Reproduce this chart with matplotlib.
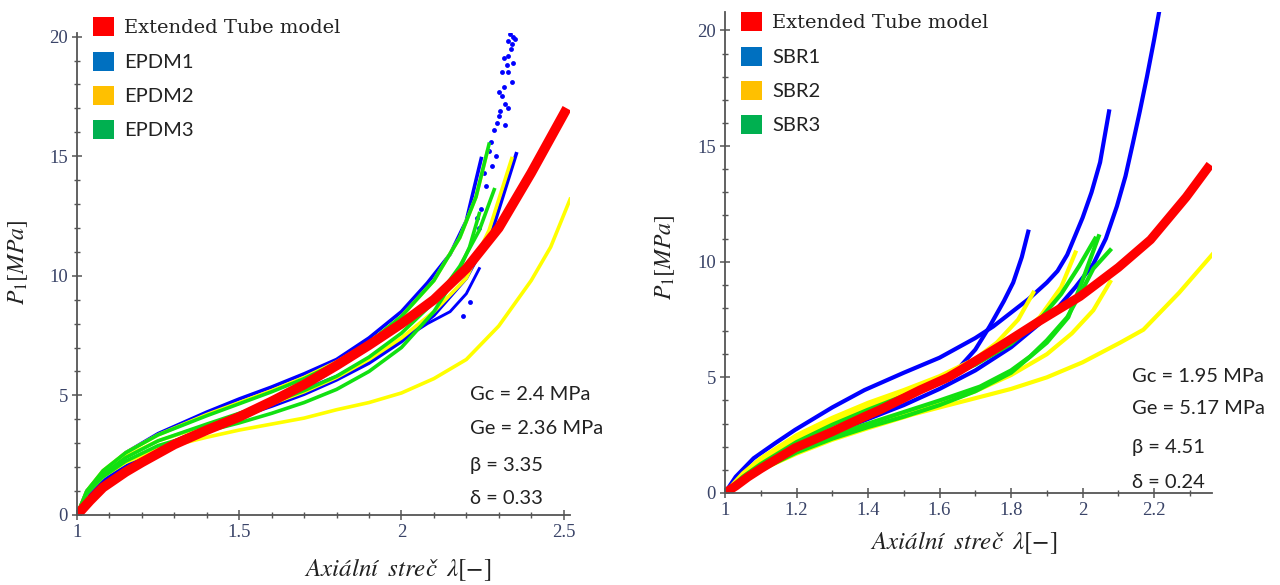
import matplotlib
matplotlib.use("Agg")
import matplotlib.pyplot as plt
from matplotlib.patches import Patch
from matplotlib.ticker import MultipleLocator, FormatStrFormatter

plt.rcParams['mathtext.fontset'] = 'stix'

# ----------------------------
# Left panel data (EPDM)
# ----------------------------
epdm_model_x = [1.0, 1.04, 1.08, 1.15, 1.2, 1.3, 1.4, 1.5, 1.6, 1.7, 1.8, 1.9, 2.0, 2.1, 2.2, 2.3, 2.4, 2.51]
epdm_model_y = [0, 0.6, 1.15, 1.8, 2.2, 2.95, 3.55, 4.1, 4.75, 5.45, 6.25, 7.1, 8.0, 9.0, 10.3, 12.0, 14.3, 17.0]

epdm1_a_x = [1.0, 1.03, 1.08, 1.15, 1.25, 1.4, 1.5, 1.6, 1.7, 1.8, 1.9, 2.0, 2.08, 2.15, 2.2, 2.23, 2.246]
epdm1_a_y = [0, 1.0, 1.8, 2.6, 3.4, 4.3, 4.85, 5.35, 5.9, 6.5, 7.4, 8.5, 9.7, 10.9, 12.3, 14.0, 14.9]
epdm1_b_x = [1.0, 1.04, 1.1, 1.2, 1.3, 1.4, 1.5, 1.6, 1.7, 1.8, 1.9, 2.0, 2.08, 2.15, 2.2, 2.24]
epdm1_b_y = [0, 0.9, 1.65, 2.45, 3.1, 3.7, 4.25, 4.75, 5.25, 5.8, 6.5, 7.3, 8.0, 8.5, 9.25, 10.3]
epdm1_c_x = [1.0, 1.04, 1.1, 1.2, 1.3, 1.4, 1.5, 1.6, 1.7, 1.8, 1.9, 2.0, 2.1, 2.2, 2.28, 2.354]
epdm1_c_y = [0, 0.9, 1.6, 2.4, 3.0, 3.6, 4.1, 4.55, 5.05, 5.65, 6.35, 7.25, 8.35, 9.9, 11.9, 15.1]
epdm1_pts_x = [2.234, 2.24, 2.245, 2.26, 2.255, 2.29, 2.277, 2.285, 2.32, 2.3, 2.305, 2.33, 2.31, 2.3, 2.317,
               2.34, 2.33, 2.31, 2.317, 2.33, 2.328, 2.335, 2.345, 2.35, 2.34, 2.27, 2.28, 2.21, 2.19,
               2.295, 2.325, 2.338, 2.343, 2.32]
epdm1_pts_y = [12.4, 12.0, 12.8, 13.75, 14.3, 15.0, 15.6, 16.1, 16.3, 16.7, 16.9, 17.0, 17.5, 17.7, 17.9,
               18.1, 18.5, 18.5, 19.1, 19.2, 19.8, 20.1, 20.0, 19.9, 19.7, 15.2, 14.6, 8.9, 8.3,
               16.4, 18.8, 19.5, 18.9, 17.2]

epdm2_a_x = [1.0, 1.03, 1.08, 1.15, 1.25, 1.4, 1.5, 1.6, 1.7, 1.8, 1.9, 2.0, 2.1, 2.18, 2.23, 2.265]
epdm2_a_y = [0, 1.0, 1.85, 2.6, 3.35, 4.2, 4.7, 5.2, 5.75, 6.4, 7.2, 8.3, 9.8, 11.6, 13.3, 15.2]
epdm2_b_x = [1.0, 1.03, 1.08, 1.15, 1.25, 1.4, 1.5, 1.6, 1.7, 1.8, 1.9, 2.0, 2.1, 2.2, 2.27, 2.34]
epdm2_b_y = [0, 0.95, 1.75, 2.45, 3.1, 3.75, 4.2, 4.65, 5.15, 5.75, 6.5, 7.4, 8.5, 9.9, 11.9, 14.9]
epdm2_c_x = [1.0, 1.03, 1.08, 1.15, 1.25, 1.4, 1.5, 1.6, 1.7, 1.8, 1.9, 2.0, 2.1, 2.2, 2.3, 2.4, 2.46, 2.52]
epdm2_c_y = [0, 0.9, 1.6, 2.2, 2.75, 3.25, 3.55, 3.8, 4.05, 4.4, 4.7, 5.1, 5.7, 6.5, 7.9, 9.8, 11.2, 13.2]

epdm3_a_x = [1.0, 1.03, 1.08, 1.15, 1.25, 1.4, 1.5, 1.6, 1.7, 1.8, 1.9, 2.0, 2.1, 2.18, 2.23, 2.27]
epdm3_a_y = [0, 1.0, 1.85, 2.6, 3.35, 4.15, 4.65, 5.15, 5.7, 6.35, 7.2, 8.3, 9.8, 11.6, 13.3, 15.5]
epdm3_b_x = [1.0, 1.03, 1.08, 1.15, 1.25, 1.4, 1.5, 1.6, 1.7, 1.8, 1.9, 2.0, 2.1, 2.18, 2.24, 2.286]
epdm3_b_y = [0, 0.95, 1.7, 2.4, 3.1, 3.8, 4.25, 4.7, 5.2, 5.8, 6.6, 7.6, 8.9, 10.4, 11.9, 13.6]
epdm3_c_x = [1.0, 1.03, 1.08, 1.15, 1.25, 1.4, 1.5, 1.6, 1.7, 1.8, 1.9, 2.0, 2.1, 2.17, 2.21, 2.24]
epdm3_c_y = [0, 0.9, 1.6, 2.25, 2.9, 3.5, 3.85, 4.25, 4.7, 5.25, 6.0, 7.0, 8.5, 10.0, 11.2, 12.6]

# ----------------------------
# Right panel data (SBR)
# ----------------------------
sbr_model_x = [1.0, 1.03, 1.064, 1.1, 1.196, 1.3, 1.39, 1.434, 1.545, 1.624, 1.657, 1.769, 1.881, 1.993, 2.1, 2.19, 2.29, 2.357]
sbr_model_y = [0, 0.3, 0.69, 1.05, 1.95, 2.65, 3.3, 3.6, 4.45, 5.0, 5.3, 6.35, 7.45, 8.5, 9.75, 10.95, 12.8, 14.2]

sbr1_a_x = [1.0, 1.03, 1.08, 1.14, 1.196, 1.3, 1.39, 1.5, 1.6, 1.7, 1.75, 1.8, 1.85, 1.9, 1.93, 1.957, 2.0, 2.025, 2.049, 2.074]
sbr1_a_y = [0, 0.7, 1.5, 2.15, 2.73, 3.7, 4.45, 5.2, 5.85, 6.7, 7.2, 7.8, 8.4, 9.1, 9.6, 10.3, 11.9, 13.0, 14.3, 16.5]
sbr1_b_x = [1.0, 1.05, 1.1, 1.2, 1.3, 1.4, 1.5, 1.6, 1.657, 1.7, 1.74, 1.78, 1.806, 1.83, 1.848]
sbr1_b_y = [0, 0.6, 1.1, 1.95, 2.7, 3.35, 4.0, 4.85, 5.46, 6.2, 7.2, 8.3, 9.1, 10.2, 11.3]
sbr1_c_x = [1.0, 1.05, 1.1, 1.2, 1.3, 1.4, 1.5, 1.6, 1.7, 1.8, 1.87, 1.93, 1.98, 2.03, 2.065, 2.096, 2.12, 2.141, 2.16, 2.18, 2.2, 2.214]
sbr1_c_y = [0, 0.6, 1.1, 1.9, 2.6, 3.2, 3.8, 4.5, 5.3, 6.3, 7.2, 8.0, 8.9, 9.9, 11.0, 12.4, 13.7, 15.15, 16.5, 18.0, 19.6, 20.8]

sbr2_a_x = [1.0, 1.05, 1.1, 1.2, 1.3, 1.4, 1.5, 1.6, 1.7, 1.76, 1.82, 1.862]
sbr2_a_y = [0, 0.85, 1.5, 2.5, 3.25, 3.9, 4.45, 5.05, 5.8, 6.5, 7.5, 8.66]
sbr2_b_x = [1.0, 1.05, 1.1, 1.2, 1.3, 1.4, 1.5, 1.6, 1.7, 1.8, 1.88, 1.94, 1.98]
sbr2_b_y = [0, 0.8, 1.4, 2.35, 3.1, 3.75, 4.3, 4.9, 5.6, 6.5, 7.6, 8.9, 10.4]
sbr2_c_x = [1.0, 1.05, 1.1, 1.2, 1.3, 1.4, 1.5, 1.6, 1.7, 1.8, 1.9, 1.97, 2.03, 2.077]
sbr2_c_y = [0, 0.6, 1.1, 1.85, 2.45, 2.95, 3.4, 3.85, 4.4, 5.1, 6.0, 6.9, 7.9, 9.13]
sbr2_d_x = [1.0, 1.05, 1.1, 1.2, 1.3, 1.4, 1.526, 1.6, 1.713, 1.8, 1.9, 2.0, 2.105, 2.17, 2.27, 2.362]
sbr2_d_y = [0, 0.55, 1.0, 1.7, 2.3, 2.8, 3.4, 3.7, 4.15, 4.5, 5.0, 5.65, 6.5, 7.06, 8.66, 10.3]

sbr3_a_x = [1.0, 1.05, 1.1, 1.2, 1.3, 1.4, 1.5, 1.6, 1.7, 1.8, 1.88, 1.94, 1.99, 2.035]
sbr3_a_y = [0, 0.7, 1.25, 2.2, 2.95, 3.6, 4.2, 4.85, 5.55, 6.45, 7.5, 8.6, 9.8, 11.0]
sbr3_b_x = [1.0, 1.05, 1.1, 1.2, 1.3, 1.4, 1.5, 1.6, 1.713, 1.8, 1.853, 1.9, 1.957, 2.0, 2.03, 2.077]
sbr3_b_y = [0, 0.6, 1.1, 1.85, 2.5, 3.0, 3.5, 4.0, 4.6, 5.3, 5.9, 6.6, 7.6, 8.8, 9.7, 10.5]
sbr3_c_x = [1.0, 1.05, 1.1, 1.2, 1.3, 1.4, 1.5, 1.6, 1.7, 1.8, 1.9, 1.96, 2.0, 2.045]
sbr3_c_y = [0, 0.55, 1.0, 1.75, 2.35, 2.85, 3.3, 3.8, 4.4, 5.2, 6.5, 7.6, 9.2, 11.1]

epdm_labels = ["Extended Tube model", "EPDM1", "EPDM2", "EPDM3"]
sbr_labels = ["Extended Tube model", "SBR1", "SBR2", "SBR3"]
epdm_params = ["Gc = 2.4 MPa", "Ge = 2.36 MPa", "\u03b2 = 3.35", "\u03b4 = 0.33"]
sbr_params = ["Gc = 1.95 MPa", "Ge = 5.17 MPa", "\u03b2 = 4.51", "\u03b4 = 0.24"]

BLUE = "#0000ff"
YELLOW = "#ffff00"
GREEN = "#11e011"
RED = "#ff0000"
legend_colors = ["#ff0000", "#0070c0", "#ffc000", "#00b050"]


def style_axes(ax, xmax, ymax, xmajor, xminor):
    ax.set_xlim(1, xmax)
    ax.set_ylim(0, ymax)
    for s in ["top", "right"]:
        ax.spines[s].set_visible(False)
    for s in ["left", "bottom"]:
        ax.spines[s].set_color("#555555")
        ax.spines[s].set_linewidth(1.3)
    ax.xaxis.set_major_locator(MultipleLocator(xmajor))
    ax.xaxis.set_minor_locator(MultipleLocator(xminor))
    ax.yaxis.set_major_locator(MultipleLocator(5))
    ax.yaxis.set_minor_locator(MultipleLocator(1))
    ax.xaxis.set_major_formatter(FormatStrFormatter("%g"))
    ax.yaxis.set_major_formatter(FormatStrFormatter("%g"))
    ax.tick_params(which="major", direction="inout", length=7, width=1.1, color="#555555",
                   labelsize=13.5, labelcolor="#3a4468", pad=3)
    ax.tick_params(which="minor", direction="inout", length=5, width=1.0, color="#555555")
    for lab in ax.get_xticklabels() + ax.get_yticklabels():
        lab.set_fontfamily("Liberation Serif")
    ax.set_ylabel("$P_1[MPa]$", fontsize=17, color="#222222")
    ax.set_xlabel("$Axiální\\;\\;streč\\;\\;\\lambda[-]$", fontsize=18, color="#222222")


def add_legend(fig, labels, x, y):
    handles = [Patch(facecolor=c, edgecolor="none") for c in legend_colors]
    leg = fig.legend(handles, labels, loc="upper left", bbox_to_anchor=(x, y),
                     frameon=False, fontsize=14, handlelength=1.1, handleheight=1.1,
                     handletextpad=0.5, labelspacing=0.78, borderpad=0, borderaxespad=0)
    for i, t in enumerate(leg.get_texts()):
        t.set_fontfamily("DejaVu Serif" if i == 0 else "Lato")
        t.set_color("#222222")
        if i > 0:
            t.set_fontsize(14.5)


def add_params(fig, params, x, ys):
    for txt, y in zip(params, ys):
        fig.text(x, y, txt, fontsize=14.5, fontfamily="Lato", color="#222222", va="center")


def main():
    fig = plt.figure(figsize=(12.8, 5.85), dpi=100)

    # ----------------------------
    # Left: EPDM
    # ----------------------------
    ax1 = fig.add_axes([0.0602, 0.1197, 0.3852, 0.8239])
    lw = 2.6
    ax1.plot(epdm1_a_x, epdm1_a_y, color=BLUE, lw=lw)
    ax1.plot(epdm1_b_x, epdm1_b_y, color=BLUE, lw=lw * 0.8)
    ax1.plot(epdm1_c_x, epdm1_c_y, color=BLUE, lw=lw)
    ax1.plot(epdm1_pts_x, epdm1_pts_y, "o", color=BLUE, ms=3.5, mec="none")
    ax1.plot(epdm2_c_x, epdm2_c_y, color=YELLOW, lw=lw)
    ax1.plot(epdm2_b_x, epdm2_b_y, color=YELLOW, lw=lw)
    ax1.plot(epdm2_a_x, epdm2_a_y, color=YELLOW, lw=lw)
    ax1.plot(epdm3_c_x, epdm3_c_y, color=GREEN, lw=lw)
    ax1.plot(epdm3_b_x, epdm3_b_y, color=GREEN, lw=lw)
    ax1.plot(epdm3_a_x, epdm3_a_y, color=GREEN, lw=lw)
    ax1.plot(epdm_model_x, epdm_model_y, color=RED, lw=7, solid_capstyle="butt")
    style_axes(ax1, 2.52, 20.15, 0.5, 0.1)
    ax1.yaxis.set_label_coords(-0.095, 0.525)
    ax1.xaxis.set_label_coords(0.651, -0.085)

    # ----------------------------
    # Right: SBR
    # ----------------------------
    ax2 = fig.add_axes([0.5664, 0.1573, 0.3805, 0.8222])
    lw = 3.0
    ax2.plot(sbr1_a_x, sbr1_a_y, color=BLUE, lw=lw)
    ax2.plot(sbr1_b_x, sbr1_b_y, color=BLUE, lw=lw)
    ax2.plot(sbr1_c_x, sbr1_c_y, color=BLUE, lw=lw)
    ax2.plot(sbr2_d_x, sbr2_d_y, color=YELLOW, lw=lw)
    ax2.plot(sbr2_c_x, sbr2_c_y, color=YELLOW, lw=lw)
    ax2.plot(sbr2_b_x, sbr2_b_y, color=YELLOW, lw=lw)
    ax2.plot(sbr2_a_x, sbr2_a_y, color=YELLOW, lw=lw)
    ax2.plot(sbr3_c_x, sbr3_c_y, color=GREEN, lw=lw)
    ax2.plot(sbr3_b_x, sbr3_b_y, color=GREEN, lw=lw)
    ax2.plot(sbr3_a_x, sbr3_a_y, color=GREEN, lw=lw)
    ax2.plot(sbr_model_x, sbr_model_y, color=RED, lw=6.5, solid_capstyle="butt")
    style_axes(ax2, 2.362, 20.8, 0.2, 0.1)
    ax2.yaxis.set_label_coords(-0.099, 0.489)
    ax2.xaxis.set_label_coords(0.489, -0.075)

    add_legend(fig, epdm_labels, 93 / 1280, 1 - 17 / 585)
    add_legend(fig, sbr_labels, 741 / 1280, 1 - 12 / 585)

    add_params(fig, epdm_params, 470 / 1280, [1 - y / 585 for y in [394, 428, 466, 498]])
    add_params(fig, sbr_params, 1132 / 1280, [1 - y / 585 for y in [376, 408, 448, 482]])

    fig.savefig("out.png", dpi=100)


if __name__ == "__main__":
    main()
